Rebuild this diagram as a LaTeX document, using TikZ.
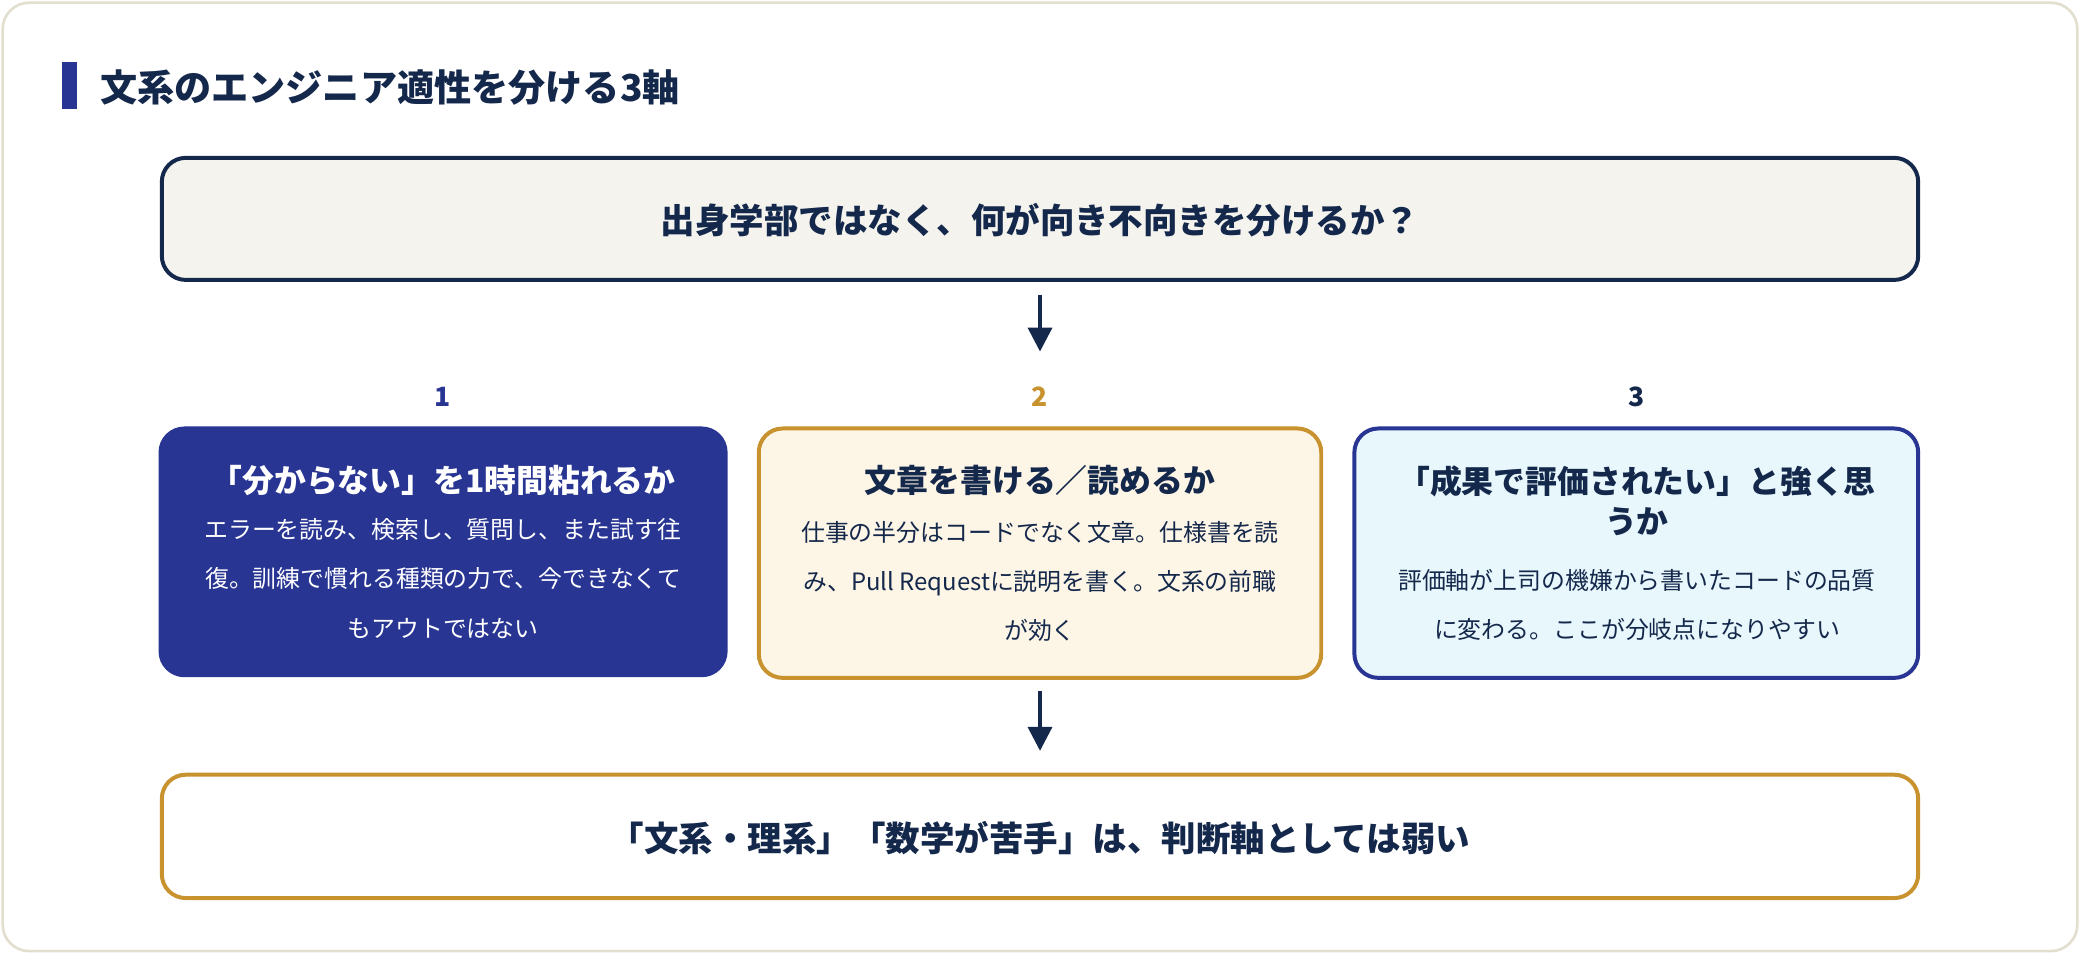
\documentclass[tikz,border=0pt]{standalone}
\usepackage{fontspec}
\setmainfont{Noto Sans CJK JP}
\usetikzlibrary{arrows.meta}
\definecolor{navy}{HTML}{14284B}
\definecolor{indigo}{HTML}{283593}
\definecolor{gold}{HTML}{C8922E}
\definecolor{paper}{HTML}{F4F3EE}
\definecolor{cream}{HTML}{FDF5E6}
\definecolor{icy}{HTML}{E8F7FC}
\definecolor{frame}{HTML}{E2DFCF}
\tikzset{
  card/.style={rounded corners=9pt, line width=1.5pt},
  head/.style={font=\fontsize{12}{15}\selectfont\bfseries, align=center},
  body/.style={font=\fontsize{9}{18.5}\selectfont, align=center},
  num/.style={font=\fontsize{10}{12}\selectfont\bfseries},
  flow/.style={-{Triangle[width=9pt,length=9pt]}, line width=1.4pt, navy},
}
\begin{document}
\begin{tikzpicture}[x=0.5pt,y=0.5pt,yscale=-1,xscale=1]
    \useasboundingbox (0,0) rectangle (1568,719);
    % Frame
    \draw [frame, fill=white, rounded corners=10pt, line width=1pt] (2,2) rectangle (1566,717);
    % Title
    \fill [indigo] (47,47) rectangle (58,82);
    \node (title) [anchor=west, inner sep=0pt, text=navy, font=\fontsize{14}{17}\selectfont\bfseries] at (75,66) {文系のエンジニア適性を分ける3軸};
    % Question box
    \draw [card, draw=navy, fill=paper] (122,119) rectangle (1446,211);
    \node (q) [text=navy, font=\fontsize{13}{16}\selectfont\bfseries] at (784,166) {出身学部ではなく、何が向き不向きを分けるか？};
    \coordinate (a1s) at (784,222);
    \coordinate (a1e) at (784,265);
    \draw [flow] (a1s) -- (a1e);
    % Numbers
    \node (n1) [num, text=indigo] at (334,299) {1};
    \node (n2) [num, text=gold] at (784,299) {2};
    \node (n3) [num, text=navy] at (1234,299) {3};
    % Card 1
    \draw [card, draw=indigo, fill=indigo] (121,323) rectangle (547,509);
    \node (h1) [head, text=white] at (334,362) {「分からない」を1時間粘れるか};
    \node (b1) [body, text=white, anchor=north] at (334,384) {エラーを読み、検索し、質問し、また試す往\\復。訓練で慣れる種類の力で、今できなくて\\もアウトではない};
    % Card 2
    \draw [card, draw=gold, fill=cream] (572,323) rectangle (996,511);
    \node (h2) [head, text=navy] at (784,362) {文章を書ける／読めるか};
    \node (b2) [body, text=navy, anchor=north] at (784,386) {仕事の半分はコードでなく文章。仕様書を読\\み、Pull Requestに説明を書く。文系の前職\\が効く};
    % Card 3
    \draw [card, draw=indigo, fill=icy] (1021,323) rectangle (1446,511);
    \node (h3) [head, text=navy, anchor=north] at (1234,344) {「成果で評価されたい」と強く思\\うか};
    \node (b3) [body, text=navy, anchor=north] at (1234,422) {評価軸が上司の機嫌から書いたコードの品質\\に変わる。ここが分岐点になりやすい};
    \coordinate (a2s) at (784,521);
    \coordinate (a2e) at (784,566);
    \draw [flow] (a2s) -- (a2e);
    % Conclusion box
    \draw [card, draw=gold, fill=white] (122,584) rectangle (1446,677);
    \node (c) [text=navy, font=\fontsize{13}{16}\selectfont\bfseries] at (784,632) {「文系・理系」「数学が苦手」は、判断軸としては弱い};
\end{tikzpicture}
\end{document}
